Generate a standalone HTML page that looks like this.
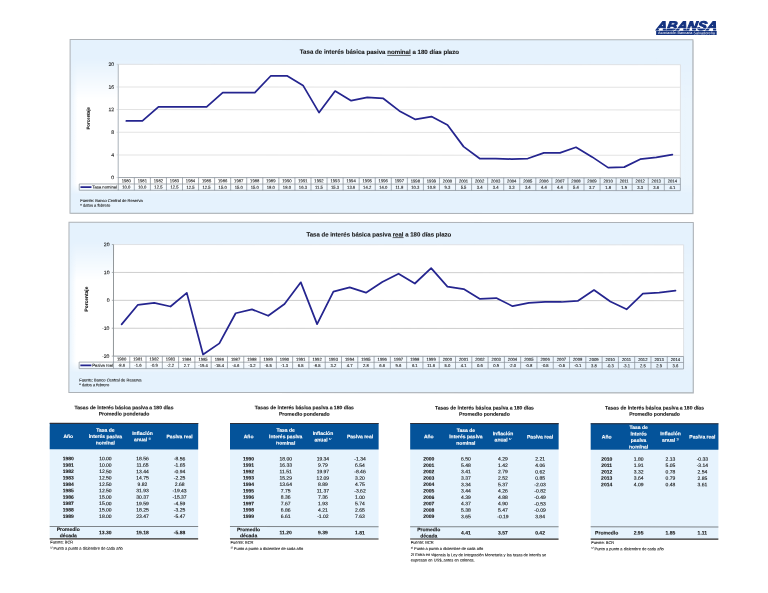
<!DOCTYPE html>
<html lang="es"><head><meta charset="utf-8"><title>ABANSA - Tasa de interés básica pasiva a 180 días plazo</title>
<style>
html,body{margin:0;padding:0;background:#fff}
body{width:768px;height:593px;overflow:hidden;font-family:"Liberation Sans",sans-serif}
svg{display:block}
svg text{font-family:"Liberation Sans",sans-serif;fill:#151515;stroke:#151515;stroke-width:0.09px}
.ax{font-size:5.15px}
.dt{font-size:4.2px}
.ct{font-weight:bold;stroke-width:0.1px}
.yt{font-weight:bold;stroke-width:0.1px}
.fu{font-size:4.05px}
.tt{font-size:5.05px;font-weight:bold;stroke-width:0.1px}
.th{font-size:5px;font-weight:bold;fill:#fff;stroke:#fff;stroke-width:0.1px}
.td{font-size:5px;stroke-width:0.12px}
.tdb{font-size:5px;font-weight:bold;stroke-width:0.1px}
.nt{font-size:3.98px}
.lg{font-size:12.5px;font-weight:bold;font-style:italic;fill:#13327f;stroke:#13327f;stroke-width:0.95px;stroke-linejoin:miter}
.lg2{font-size:3.6px;fill:#fff;stroke:none}
</style></head><body>
<svg width="768" height="593" viewBox="0 0 768 593">
<defs>
<linearGradient id="h1" gradientUnits="userSpaceOnUse" x1="69.95" y1="0" x2="692.7" y2="0">
<stop offset="0" stop-color="#fff" stop-opacity="0.2"/><stop offset="0.012" stop-color="#fff" stop-opacity="1"/>
<stop offset="0.22" stop-color="#fff" stop-opacity="1"/><stop offset="0.88" stop-color="#fff" stop-opacity="0.28"/><stop offset="1" stop-color="#fff" stop-opacity="0.22"/>
</linearGradient>
<linearGradient id="v1" gradientUnits="userSpaceOnUse" x1="0" y1="39.6" x2="0" y2="213.4">
<stop offset="0" stop-color="#000"/><stop offset="0.106" stop-color="#000"/><stop offset="0.348" stop-color="#fff"/>
<stop offset="0.831" stop-color="#fff"/><stop offset="0.894" stop-color="#000"/><stop offset="1" stop-color="#000"/>
</linearGradient>
<mask id="m1" maskUnits="userSpaceOnUse" x="69.95" y="39.6" width="622.75" height="173.8"><rect x="69.95" y="39.6" width="622.75" height="173.8" fill="url(#v1)"/></mask>

<linearGradient id="h2" gradientUnits="userSpaceOnUse" x1="68.95" y1="0" x2="693.3" y2="0">
<stop offset="0" stop-color="#fff" stop-opacity="0.2"/><stop offset="0.012" stop-color="#fff" stop-opacity="1"/>
<stop offset="0.22" stop-color="#fff" stop-opacity="1"/><stop offset="0.88" stop-color="#fff" stop-opacity="0.28"/><stop offset="1" stop-color="#fff" stop-opacity="0.22"/>
</linearGradient>
<linearGradient id="v2" gradientUnits="userSpaceOnUse" x1="0" y1="222.4" x2="0" y2="392.55">
<stop offset="0" stop-color="#000"/><stop offset="0.109" stop-color="#000"/><stop offset="0.350" stop-color="#fff"/>
<stop offset="0.820" stop-color="#fff"/><stop offset="0.885" stop-color="#000"/><stop offset="1" stop-color="#000"/>
</linearGradient>
<mask id="m2" maskUnits="userSpaceOnUse" x="68.95" y="222.4" width="624.3499999999999" height="170.15"><rect x="68.95" y="222.4" width="624.3499999999999" height="170.15" fill="url(#v2)"/></mask>
</defs>
<g transform="rotate(0.035 384 296.5)">

<g>
<text transform="translate(656.2 29.75) skewX(-9)" class="lg" textLength="60.2" lengthAdjust="spacingAndGlyphs">ABANSA</text>
<rect x="658" y="27.85" width="59" height="0.5" fill="#fff"/>
<rect x="656" y="30.7" width="60.5" height="4.05" fill="#13327f"/>
<text x="657.8" y="33.95" class="lg2" textLength="57" lengthAdjust="spacingAndGlyphs">Asociación Bancaria Salvadoreña</text>
</g>

<rect x="70.55" y="40.2" width="622.8" height="173.8" fill="#c5c9cd"/>
<rect x="69.95" y="39.6" width="622.8" height="173.8" fill="#e5f2fd"/>
<rect x="69.95" y="39.6" width="622.8" height="173.8" fill="url(#h1)" mask="url(#m1)"/>
<rect x="69.95" y="39.6" width="622.8" height="173.8" fill="none" stroke="#adb2b7" stroke-width="1"/>
<rect x="118.2" y="64.5" width="562.10" height="113.20" fill="#fff" stroke="#dcdfe2" stroke-width="0.9"/>
<line x1="116.5" y1="177.70" x2="118.2" y2="177.70" stroke="#c2c8ce" stroke-width="0.7"/>
<text x="114.0" y="179.45" text-anchor="end" class="ax">0</text>
<line x1="118.2" y1="155.06" x2="680.3" y2="155.06" stroke="#e3e3e3" stroke-width="1.0"/>
<line x1="116.5" y1="155.06" x2="118.2" y2="155.06" stroke="#c2c8ce" stroke-width="0.7"/>
<text x="114.0" y="156.81" text-anchor="end" class="ax">4</text>
<line x1="118.2" y1="132.42" x2="680.3" y2="132.42" stroke="#e3e3e3" stroke-width="1.0"/>
<line x1="116.5" y1="132.42" x2="118.2" y2="132.42" stroke="#c2c8ce" stroke-width="0.7"/>
<text x="114.0" y="134.17" text-anchor="end" class="ax">8</text>
<line x1="118.2" y1="109.78" x2="680.3" y2="109.78" stroke="#e3e3e3" stroke-width="1.0"/>
<line x1="116.5" y1="109.78" x2="118.2" y2="109.78" stroke="#c2c8ce" stroke-width="0.7"/>
<text x="114.0" y="111.53" text-anchor="end" class="ax">12</text>
<line x1="118.2" y1="87.14" x2="680.3" y2="87.14" stroke="#e3e3e3" stroke-width="1.0"/>
<line x1="116.5" y1="87.14" x2="118.2" y2="87.14" stroke="#c2c8ce" stroke-width="0.7"/>
<text x="114.0" y="88.89" text-anchor="end" class="ax">16</text>
<line x1="116.5" y1="64.50" x2="118.2" y2="64.50" stroke="#c2c8ce" stroke-width="0.7"/>
<text x="114.0" y="66.25" text-anchor="end" class="ax">20</text>
<line x1="118.2" y1="64.5" x2="118.2" y2="177.7" stroke="#c2c8ce" stroke-width="1.3"/>
<path d="M118.2 177.7H680.3M79.2 184.15H680.3M79.2 190.45H680.3M79.2 184.15V190.45M118.20 177.7V190.45M134.26 177.7V190.45M150.32 177.7V190.45M166.38 177.7V190.45M182.44 177.7V190.45M198.50 177.7V190.45M214.56 177.7V190.45M230.62 177.7V190.45M246.68 177.7V190.45M262.74 177.7V190.45M278.80 177.7V190.45M294.86 177.7V190.45M310.92 177.7V190.45M326.98 177.7V190.45M343.04 177.7V190.45M359.10 177.7V190.45M375.16 177.7V190.45M391.22 177.7V190.45M407.28 177.7V190.45M423.34 177.7V190.45M439.40 177.7V190.45M455.46 177.7V190.45M471.52 177.7V190.45M487.58 177.7V190.45M503.64 177.7V190.45M519.70 177.7V190.45M535.76 177.7V190.45M551.82 177.7V190.45M567.88 177.7V190.45M583.94 177.7V190.45M600.00 177.7V190.45M616.06 177.7V190.45M632.12 177.7V190.45M648.18 177.7V190.45M664.24 177.7V190.45M680.30 177.7V190.45" fill="none" stroke="#8b939b" stroke-width="0.75"/>
<text x="126.23" y="182.37" text-anchor="middle" class="dt">1980</text>
<text x="126.23" y="188.75" text-anchor="middle" class="dt">10.0</text>
<text x="142.29" y="182.37" text-anchor="middle" class="dt">1981</text>
<text x="142.29" y="188.75" text-anchor="middle" class="dt">10.0</text>
<text x="158.35" y="182.37" text-anchor="middle" class="dt">1982</text>
<text x="158.35" y="188.75" text-anchor="middle" class="dt">12.5</text>
<text x="174.41" y="182.37" text-anchor="middle" class="dt">1983</text>
<text x="174.41" y="188.75" text-anchor="middle" class="dt">12.5</text>
<text x="190.47" y="182.37" text-anchor="middle" class="dt">1984</text>
<text x="190.47" y="188.75" text-anchor="middle" class="dt">12.5</text>
<text x="206.53" y="182.37" text-anchor="middle" class="dt">1985</text>
<text x="206.53" y="188.75" text-anchor="middle" class="dt">12.5</text>
<text x="222.59" y="182.37" text-anchor="middle" class="dt">1986</text>
<text x="222.59" y="188.75" text-anchor="middle" class="dt">15.0</text>
<text x="238.65" y="182.37" text-anchor="middle" class="dt">1987</text>
<text x="238.65" y="188.75" text-anchor="middle" class="dt">15.0</text>
<text x="254.71" y="182.37" text-anchor="middle" class="dt">1988</text>
<text x="254.71" y="188.75" text-anchor="middle" class="dt">15.0</text>
<text x="270.77" y="182.37" text-anchor="middle" class="dt">1989</text>
<text x="270.77" y="188.75" text-anchor="middle" class="dt">18.0</text>
<text x="286.83" y="182.37" text-anchor="middle" class="dt">1990</text>
<text x="286.83" y="188.75" text-anchor="middle" class="dt">18.0</text>
<text x="302.89" y="182.37" text-anchor="middle" class="dt">1991</text>
<text x="302.89" y="188.75" text-anchor="middle" class="dt">16.3</text>
<text x="318.95" y="182.37" text-anchor="middle" class="dt">1992</text>
<text x="318.95" y="188.75" text-anchor="middle" class="dt">11.5</text>
<text x="335.01" y="182.37" text-anchor="middle" class="dt">1993</text>
<text x="335.01" y="188.75" text-anchor="middle" class="dt">15.3</text>
<text x="351.07" y="182.37" text-anchor="middle" class="dt">1994</text>
<text x="351.07" y="188.75" text-anchor="middle" class="dt">13.6</text>
<text x="367.13" y="182.37" text-anchor="middle" class="dt">1995</text>
<text x="367.13" y="188.75" text-anchor="middle" class="dt">14.2</text>
<text x="383.19" y="182.37" text-anchor="middle" class="dt">1996</text>
<text x="383.19" y="188.75" text-anchor="middle" class="dt">14.0</text>
<text x="399.25" y="182.37" text-anchor="middle" class="dt">1997</text>
<text x="399.25" y="188.75" text-anchor="middle" class="dt">11.8</text>
<text x="415.31" y="182.37" text-anchor="middle" class="dt">1998</text>
<text x="415.31" y="188.75" text-anchor="middle" class="dt">10.3</text>
<text x="431.37" y="182.37" text-anchor="middle" class="dt">1999</text>
<text x="431.37" y="188.75" text-anchor="middle" class="dt">10.8</text>
<text x="447.43" y="182.37" text-anchor="middle" class="dt">2000</text>
<text x="447.43" y="188.75" text-anchor="middle" class="dt">9.3</text>
<text x="463.49" y="182.37" text-anchor="middle" class="dt">2001</text>
<text x="463.49" y="188.75" text-anchor="middle" class="dt">5.5</text>
<text x="479.55" y="182.37" text-anchor="middle" class="dt">2002</text>
<text x="479.55" y="188.75" text-anchor="middle" class="dt">3.4</text>
<text x="495.61" y="182.37" text-anchor="middle" class="dt">2003</text>
<text x="495.61" y="188.75" text-anchor="middle" class="dt">3.4</text>
<text x="511.67" y="182.37" text-anchor="middle" class="dt">2004</text>
<text x="511.67" y="188.75" text-anchor="middle" class="dt">3.3</text>
<text x="527.73" y="182.37" text-anchor="middle" class="dt">2005</text>
<text x="527.73" y="188.75" text-anchor="middle" class="dt">3.4</text>
<text x="543.79" y="182.37" text-anchor="middle" class="dt">2006</text>
<text x="543.79" y="188.75" text-anchor="middle" class="dt">4.4</text>
<text x="559.85" y="182.37" text-anchor="middle" class="dt">2007</text>
<text x="559.85" y="188.75" text-anchor="middle" class="dt">4.4</text>
<text x="575.91" y="182.37" text-anchor="middle" class="dt">2008</text>
<text x="575.91" y="188.75" text-anchor="middle" class="dt">5.4</text>
<text x="591.97" y="182.37" text-anchor="middle" class="dt">2009</text>
<text x="591.97" y="188.75" text-anchor="middle" class="dt">3.7</text>
<text x="608.03" y="182.37" text-anchor="middle" class="dt">2010</text>
<text x="608.03" y="188.75" text-anchor="middle" class="dt">1.8</text>
<text x="624.09" y="182.37" text-anchor="middle" class="dt">2011</text>
<text x="624.09" y="188.75" text-anchor="middle" class="dt">1.9</text>
<text x="640.15" y="182.37" text-anchor="middle" class="dt">2012</text>
<text x="640.15" y="188.75" text-anchor="middle" class="dt">3.3</text>
<text x="656.21" y="182.37" text-anchor="middle" class="dt">2013</text>
<text x="656.21" y="188.75" text-anchor="middle" class="dt">3.6</text>
<text x="672.27" y="182.37" text-anchor="middle" class="dt">2014</text>
<text x="672.27" y="188.75" text-anchor="middle" class="dt">4.1</text>
<line x1="80.4" y1="187.30" x2="91.4" y2="187.30" stroke="#25258f" stroke-width="1.6"/>
<text x="92.3" y="188.75" class="dt">Tasa nominal</text>
<polyline points="126.23,121.10 142.29,121.10 158.35,106.95 174.41,106.95 190.47,106.95 206.53,106.95 222.59,92.80 238.65,92.80 254.71,92.80 270.77,75.82 286.83,75.82 302.89,85.44 318.95,112.61 335.01,91.10 351.07,100.72 367.13,97.33 383.19,98.46 399.25,110.91 415.31,119.40 431.37,116.57 447.43,125.06 463.49,146.57 479.55,158.46 495.61,158.46 511.67,159.02 527.73,158.46 543.79,152.80 559.85,152.80 575.91,147.14 591.97,156.76 608.03,167.51 624.09,166.95 640.15,159.02 656.21,157.32 672.27,154.49" fill="none" stroke="#25258f" stroke-width="1.75" stroke-linejoin="round" stroke-linecap="round"/>
<text x="379.3" y="53.9" text-anchor="middle" class="ct" font-size="6.13">Tasa de interés básica pasiva <tspan text-decoration="underline">nominal</tspan> a 180 días plazo</text>
<text transform="translate(89.6,118.5) rotate(-90)" text-anchor="middle" class="yt" font-size="4.42">Porcentaje</text>
<text x="80.3" y="202.2" class="fu">Fuente: Banco Central de Reserva</text>
<text x="80.3" y="206.89999999999998" class="fu">* datos a febrero</text>
<rect x="69.55" y="223.0" width="624.3" height="170.2" fill="#c5c9cd"/>
<rect x="68.95" y="222.4" width="624.3" height="170.2" fill="#e5f2fd"/>
<rect x="68.95" y="222.4" width="624.3" height="170.2" fill="url(#h2)" mask="url(#m2)"/>
<rect x="68.95" y="222.4" width="624.3" height="170.2" fill="none" stroke="#adb2b7" stroke-width="1"/>
<rect x="113.5" y="244.7" width="570.10" height="111.60" fill="#fff" stroke="#dcdfe2" stroke-width="0.9"/>
<line x1="111.8" y1="356.30" x2="113.5" y2="356.30" stroke="#8e9397" stroke-width="0.7"/>
<text x="109.5" y="358.05" text-anchor="end" class="ax">-20</text>
<line x1="113.5" y1="328.40" x2="683.6" y2="328.40" stroke="#bdbdbd" stroke-width="0.75"/>
<line x1="111.8" y1="328.40" x2="113.5" y2="328.40" stroke="#8e9397" stroke-width="0.7"/>
<text x="109.5" y="330.15" text-anchor="end" class="ax">-10</text>
<line x1="113.5" y1="300.50" x2="683.6" y2="300.50" stroke="#bdbdbd" stroke-width="0.75"/>
<line x1="111.8" y1="300.50" x2="113.5" y2="300.50" stroke="#8e9397" stroke-width="0.7"/>
<text x="109.5" y="302.25" text-anchor="end" class="ax">0</text>
<line x1="113.5" y1="272.60" x2="683.6" y2="272.60" stroke="#bdbdbd" stroke-width="0.75"/>
<line x1="111.8" y1="272.60" x2="113.5" y2="272.60" stroke="#8e9397" stroke-width="0.7"/>
<text x="109.5" y="274.35" text-anchor="end" class="ax">10</text>
<line x1="111.8" y1="244.70" x2="113.5" y2="244.70" stroke="#8e9397" stroke-width="0.7"/>
<text x="109.5" y="246.45" text-anchor="end" class="ax">20</text>
<line x1="113.5" y1="244.7" x2="113.5" y2="356.3" stroke="#8e9397" stroke-width="0.95"/>
<path d="M113.5 356.3H683.6M79.2 362.30H683.6M79.2 368.80H683.6M79.2 362.30V368.80M113.50 356.3V368.80M129.79 356.3V368.80M146.08 356.3V368.80M162.37 356.3V368.80M178.65 356.3V368.80M194.94 356.3V368.80M211.23 356.3V368.80M227.52 356.3V368.80M243.81 356.3V368.80M260.10 356.3V368.80M276.39 356.3V368.80M292.67 356.3V368.80M308.96 356.3V368.80M325.25 356.3V368.80M341.54 356.3V368.80M357.83 356.3V368.80M374.12 356.3V368.80M390.41 356.3V368.80M406.69 356.3V368.80M422.98 356.3V368.80M439.27 356.3V368.80M455.56 356.3V368.80M471.85 356.3V368.80M488.14 356.3V368.80M504.43 356.3V368.80M520.71 356.3V368.80M537.00 356.3V368.80M553.29 356.3V368.80M569.58 356.3V368.80M585.87 356.3V368.80M602.16 356.3V368.80M618.45 356.3V368.80M634.73 356.3V368.80M651.02 356.3V368.80M667.31 356.3V368.80M683.60 356.3V368.80" fill="none" stroke="#8b939b" stroke-width="0.75"/>
<text x="121.64" y="360.75" text-anchor="middle" class="dt">1980</text>
<text x="121.64" y="367.00" text-anchor="middle" class="dt">-8.6</text>
<text x="137.93" y="360.75" text-anchor="middle" class="dt">1981</text>
<text x="137.93" y="367.00" text-anchor="middle" class="dt">-1.6</text>
<text x="154.22" y="360.75" text-anchor="middle" class="dt">1982</text>
<text x="154.22" y="367.00" text-anchor="middle" class="dt">-0.9</text>
<text x="170.51" y="360.75" text-anchor="middle" class="dt">1983</text>
<text x="170.51" y="367.00" text-anchor="middle" class="dt">-2.2</text>
<text x="186.80" y="360.75" text-anchor="middle" class="dt">1984</text>
<text x="186.80" y="367.00" text-anchor="middle" class="dt">2.7</text>
<text x="203.09" y="360.75" text-anchor="middle" class="dt">1985</text>
<text x="203.09" y="367.00" text-anchor="middle" class="dt">-19.4</text>
<text x="219.38" y="360.75" text-anchor="middle" class="dt">1986</text>
<text x="219.38" y="367.00" text-anchor="middle" class="dt">-15.4</text>
<text x="235.66" y="360.75" text-anchor="middle" class="dt">1987</text>
<text x="235.66" y="367.00" text-anchor="middle" class="dt">-4.6</text>
<text x="251.95" y="360.75" text-anchor="middle" class="dt">1988</text>
<text x="251.95" y="367.00" text-anchor="middle" class="dt">-3.2</text>
<text x="268.24" y="360.75" text-anchor="middle" class="dt">1989</text>
<text x="268.24" y="367.00" text-anchor="middle" class="dt">-5.5</text>
<text x="284.53" y="360.75" text-anchor="middle" class="dt">1990</text>
<text x="284.53" y="367.00" text-anchor="middle" class="dt">-1.3</text>
<text x="300.82" y="360.75" text-anchor="middle" class="dt">1991</text>
<text x="300.82" y="367.00" text-anchor="middle" class="dt">6.5</text>
<text x="317.11" y="360.75" text-anchor="middle" class="dt">1992</text>
<text x="317.11" y="367.00" text-anchor="middle" class="dt">-8.5</text>
<text x="333.40" y="360.75" text-anchor="middle" class="dt">1993</text>
<text x="333.40" y="367.00" text-anchor="middle" class="dt">3.2</text>
<text x="349.68" y="360.75" text-anchor="middle" class="dt">1994</text>
<text x="349.68" y="367.00" text-anchor="middle" class="dt">4.7</text>
<text x="365.97" y="360.75" text-anchor="middle" class="dt">1995</text>
<text x="365.97" y="367.00" text-anchor="middle" class="dt">2.8</text>
<text x="382.26" y="360.75" text-anchor="middle" class="dt">1996</text>
<text x="382.26" y="367.00" text-anchor="middle" class="dt">6.6</text>
<text x="398.55" y="360.75" text-anchor="middle" class="dt">1997</text>
<text x="398.55" y="367.00" text-anchor="middle" class="dt">9.6</text>
<text x="414.84" y="360.75" text-anchor="middle" class="dt">1998</text>
<text x="414.84" y="367.00" text-anchor="middle" class="dt">6.1</text>
<text x="431.13" y="360.75" text-anchor="middle" class="dt">1999</text>
<text x="431.13" y="367.00" text-anchor="middle" class="dt">11.6</text>
<text x="447.42" y="360.75" text-anchor="middle" class="dt">2000</text>
<text x="447.42" y="367.00" text-anchor="middle" class="dt">5.0</text>
<text x="463.70" y="360.75" text-anchor="middle" class="dt">2001</text>
<text x="463.70" y="367.00" text-anchor="middle" class="dt">4.1</text>
<text x="479.99" y="360.75" text-anchor="middle" class="dt">2002</text>
<text x="479.99" y="367.00" text-anchor="middle" class="dt">0.6</text>
<text x="496.28" y="360.75" text-anchor="middle" class="dt">2003</text>
<text x="496.28" y="367.00" text-anchor="middle" class="dt">0.9</text>
<text x="512.57" y="360.75" text-anchor="middle" class="dt">2004</text>
<text x="512.57" y="367.00" text-anchor="middle" class="dt">-2.0</text>
<text x="528.86" y="360.75" text-anchor="middle" class="dt">2005</text>
<text x="528.86" y="367.00" text-anchor="middle" class="dt">-0.8</text>
<text x="545.15" y="360.75" text-anchor="middle" class="dt">2006</text>
<text x="545.15" y="367.00" text-anchor="middle" class="dt">-0.5</text>
<text x="561.44" y="360.75" text-anchor="middle" class="dt">2007</text>
<text x="561.44" y="367.00" text-anchor="middle" class="dt">-0.5</text>
<text x="577.72" y="360.75" text-anchor="middle" class="dt">2008</text>
<text x="577.72" y="367.00" text-anchor="middle" class="dt">-0.1</text>
<text x="594.01" y="360.75" text-anchor="middle" class="dt">2009</text>
<text x="594.01" y="367.00" text-anchor="middle" class="dt">3.8</text>
<text x="610.30" y="360.75" text-anchor="middle" class="dt">2010</text>
<text x="610.30" y="367.00" text-anchor="middle" class="dt">-0.3</text>
<text x="626.59" y="360.75" text-anchor="middle" class="dt">2011</text>
<text x="626.59" y="367.00" text-anchor="middle" class="dt">-3.1</text>
<text x="642.88" y="360.75" text-anchor="middle" class="dt">2012</text>
<text x="642.88" y="367.00" text-anchor="middle" class="dt">2.5</text>
<text x="659.17" y="360.75" text-anchor="middle" class="dt">2013</text>
<text x="659.17" y="367.00" text-anchor="middle" class="dt">2.9</text>
<text x="675.46" y="360.75" text-anchor="middle" class="dt">2014</text>
<text x="675.46" y="367.00" text-anchor="middle" class="dt">3.6</text>
<line x1="80.4" y1="365.55" x2="91.4" y2="365.55" stroke="#25258f" stroke-width="1.6"/>
<text x="92.3" y="367.00" class="dt">Pasiva real</text>
<polyline points="121.64,324.49 137.93,304.96 154.22,303.01 170.51,306.64 186.80,292.97 203.09,354.63 219.38,343.47 235.66,313.33 251.95,309.43 268.24,315.85 284.53,304.13 300.82,282.37 317.11,324.22 333.40,291.57 349.68,287.39 365.97,292.69 382.26,282.09 398.55,273.72 414.84,283.48 431.13,268.14 447.42,286.55 463.70,289.06 479.99,298.83 496.28,297.99 512.57,306.08 528.86,302.73 545.15,301.89 561.44,301.89 577.72,300.78 594.01,289.90 610.30,301.34 626.59,309.15 642.88,293.52 659.17,292.41 675.46,290.46" fill="none" stroke="#25258f" stroke-width="1.75" stroke-linejoin="round" stroke-linecap="round"/>
<text x="378.8" y="236.5" text-anchor="middle" class="ct" font-size="6.05">Tasa de interés básica pasiva <tspan text-decoration="underline">real</tspan> a 180 días plazo</text>
<text transform="translate(87.9,299.25) rotate(-90)" text-anchor="middle" class="yt" font-size="4.88">Porcentaje</text>
<text x="79.3" y="381.7" class="fu">Fuente: Banco Central de Reserva</text>
<text x="79.3" y="386.4" class="fu">* datos a febrero</text>
<text x="124.1" y="409.4" text-anchor="middle" class="tt">Tasas de interés básica pasiva a 180 días</text>
<text x="124.1" y="415.7" text-anchor="middle" class="tt">Promedio ponderado</text>
<rect x="49.8" y="449.3" width="148.5" height="89.5" fill="#e6f3fd"/>
<rect x="49.8" y="423.2" width="148.5" height="26.3" fill="#04539a"/>
<rect x="49.8" y="423.0" width="148.5" height="1.1" fill="#2c2f3a"/>
<text x="68.4" y="438.30" text-anchor="middle" class="th">Año</text>
<text x="105.5" y="431.90" text-anchor="middle" class="th">Tasa de</text>
<text x="105.5" y="438.30" text-anchor="middle" class="th">interés pasiva</text>
<text x="105.5" y="444.70" text-anchor="middle" class="th">nominal</text>
<text x="142.6" y="435.10" text-anchor="middle" class="th">Inflación</text>
<text x="142.6" y="441.50" text-anchor="middle" class="th">anual <tspan font-size="2.8" dy="-1.5" font-weight="normal">1/</tspan></text>
<text x="179.7" y="438.30" text-anchor="middle" class="th">Pasiva real</text>
<text x="68.4" y="460.50" text-anchor="middle" class="tdb">1980</text>
<text x="105.5" y="460.50" text-anchor="middle" class="td">10.00</text>
<text x="142.6" y="460.50" text-anchor="middle" class="td">18.56</text>
<text x="179.7" y="460.50" text-anchor="middle" class="td">-8.56</text>
<text x="68.4" y="466.90" text-anchor="middle" class="tdb">1981</text>
<text x="105.5" y="466.90" text-anchor="middle" class="td">10.00</text>
<text x="142.6" y="466.90" text-anchor="middle" class="td">11.65</text>
<text x="179.7" y="466.90" text-anchor="middle" class="td">-1.65</text>
<text x="68.4" y="473.30" text-anchor="middle" class="tdb">1982</text>
<text x="105.5" y="473.30" text-anchor="middle" class="td">12.50</text>
<text x="142.6" y="473.30" text-anchor="middle" class="td">13.44</text>
<text x="179.7" y="473.30" text-anchor="middle" class="td">-0.94</text>
<text x="68.4" y="479.70" text-anchor="middle" class="tdb">1983</text>
<text x="105.5" y="479.70" text-anchor="middle" class="td">12.50</text>
<text x="142.6" y="479.70" text-anchor="middle" class="td">14.75</text>
<text x="179.7" y="479.70" text-anchor="middle" class="td">-2.25</text>
<text x="68.4" y="486.10" text-anchor="middle" class="tdb">1984</text>
<text x="105.5" y="486.10" text-anchor="middle" class="td">12.50</text>
<text x="142.6" y="486.10" text-anchor="middle" class="td">9.82</text>
<text x="179.7" y="486.10" text-anchor="middle" class="td">2.68</text>
<text x="68.4" y="492.50" text-anchor="middle" class="tdb">1985</text>
<text x="105.5" y="492.50" text-anchor="middle" class="td">12.50</text>
<text x="142.6" y="492.50" text-anchor="middle" class="td">31.93</text>
<text x="179.7" y="492.50" text-anchor="middle" class="td">-19.43</text>
<text x="68.4" y="498.90" text-anchor="middle" class="tdb">1986</text>
<text x="105.5" y="498.90" text-anchor="middle" class="td">15.00</text>
<text x="142.6" y="498.90" text-anchor="middle" class="td">30.37</text>
<text x="179.7" y="498.90" text-anchor="middle" class="td">-15.37</text>
<text x="68.4" y="505.30" text-anchor="middle" class="tdb">1987</text>
<text x="105.5" y="505.30" text-anchor="middle" class="td">15.00</text>
<text x="142.6" y="505.30" text-anchor="middle" class="td">19.59</text>
<text x="179.7" y="505.30" text-anchor="middle" class="td">-4.59</text>
<text x="68.4" y="511.70" text-anchor="middle" class="tdb">1988</text>
<text x="105.5" y="511.70" text-anchor="middle" class="td">15.00</text>
<text x="142.6" y="511.70" text-anchor="middle" class="td">18.25</text>
<text x="179.7" y="511.70" text-anchor="middle" class="td">-3.25</text>
<text x="68.4" y="518.10" text-anchor="middle" class="tdb">1989</text>
<text x="105.5" y="518.10" text-anchor="middle" class="td">18.00</text>
<text x="142.6" y="518.10" text-anchor="middle" class="td">23.47</text>
<text x="179.7" y="518.10" text-anchor="middle" class="td">-5.47</text>
<rect x="49.8" y="526.2" width="148.5" height="1" fill="#7e8489"/>
<rect x="49.8" y="538.4" width="148.5" height="1.2" fill="#2f2c2a"/>
<text x="68.4" y="531.25" text-anchor="middle" class="tdb">Promedio</text>
<text x="68.4" y="537.45" text-anchor="middle" class="tdb">década</text>
<text x="105.5" y="534.4" text-anchor="middle" class="tdb">13.30</text>
<text x="142.6" y="534.4" text-anchor="middle" class="tdb">19.18</text>
<text x="179.7" y="534.4" text-anchor="middle" class="tdb">-5.88</text>
<text x="50.4" y="543.8" class="nt">Fuente: BCR</text>
<text x="50.4" y="550.0" class="nt"><tspan font-size="2.6" dy="-1.3">1/</tspan><tspan dy="1.3"> Punto a punto a diciembre de cada año</tspan></text><text x="304.4" y="409.4" text-anchor="middle" class="tt">Tasas de interés básica pasiva a 180 días</text>
<text x="304.4" y="415.7" text-anchor="middle" class="tt">Promedio ponderado</text>
<rect x="230.1" y="449.3" width="148.6" height="89.5" fill="#e6f3fd"/>
<rect x="230.1" y="423.2" width="148.6" height="26.3" fill="#04539a"/>
<rect x="230.1" y="423.0" width="148.6" height="1.1" fill="#2c2f3a"/>
<text x="248.7" y="438.30" text-anchor="middle" class="th">Año</text>
<text x="285.8" y="431.90" text-anchor="middle" class="th">Tasa de</text>
<text x="285.8" y="438.30" text-anchor="middle" class="th">interés pasiva</text>
<text x="285.8" y="444.70" text-anchor="middle" class="th">nominal</text>
<text x="323.0" y="435.10" text-anchor="middle" class="th">Inflación</text>
<text x="323.0" y="441.50" text-anchor="middle" class="th">anual <tspan font-size="2.8" dy="-1.5" font-weight="normal">1/</tspan></text>
<text x="360.1" y="438.30" text-anchor="middle" class="th">Pasiva real</text>
<text x="248.7" y="460.50" text-anchor="middle" class="tdb">1990</text>
<text x="285.8" y="460.50" text-anchor="middle" class="td">18.00</text>
<text x="323.0" y="460.50" text-anchor="middle" class="td">19.34</text>
<text x="360.1" y="460.50" text-anchor="middle" class="td">-1.34</text>
<text x="248.7" y="466.90" text-anchor="middle" class="tdb">1991</text>
<text x="285.8" y="466.90" text-anchor="middle" class="td">16.33</text>
<text x="323.0" y="466.90" text-anchor="middle" class="td">9.79</text>
<text x="360.1" y="466.90" text-anchor="middle" class="td">6.54</text>
<text x="248.7" y="473.30" text-anchor="middle" class="tdb">1992</text>
<text x="285.8" y="473.30" text-anchor="middle" class="td">11.51</text>
<text x="323.0" y="473.30" text-anchor="middle" class="td">19.97</text>
<text x="360.1" y="473.30" text-anchor="middle" class="td">-8.46</text>
<text x="248.7" y="479.70" text-anchor="middle" class="tdb">1993</text>
<text x="285.8" y="479.70" text-anchor="middle" class="td">15.29</text>
<text x="323.0" y="479.70" text-anchor="middle" class="td">12.09</text>
<text x="360.1" y="479.70" text-anchor="middle" class="td">3.20</text>
<text x="248.7" y="486.10" text-anchor="middle" class="tdb">1994</text>
<text x="285.8" y="486.10" text-anchor="middle" class="td">13.64</text>
<text x="323.0" y="486.10" text-anchor="middle" class="td">8.89</text>
<text x="360.1" y="486.10" text-anchor="middle" class="td">4.75</text>
<text x="248.7" y="492.50" text-anchor="middle" class="tdb">1995</text>
<text x="285.8" y="492.50" text-anchor="middle" class="td">7.75</text>
<text x="323.0" y="492.50" text-anchor="middle" class="td">11.37</text>
<text x="360.1" y="492.50" text-anchor="middle" class="td">-3.62</text>
<text x="248.7" y="498.90" text-anchor="middle" class="tdb">1996</text>
<text x="285.8" y="498.90" text-anchor="middle" class="td">8.36</text>
<text x="323.0" y="498.90" text-anchor="middle" class="td">7.36</text>
<text x="360.1" y="498.90" text-anchor="middle" class="td">1.00</text>
<text x="248.7" y="505.30" text-anchor="middle" class="tdb">1997</text>
<text x="285.8" y="505.30" text-anchor="middle" class="td">7.67</text>
<text x="323.0" y="505.30" text-anchor="middle" class="td">1.93</text>
<text x="360.1" y="505.30" text-anchor="middle" class="td">5.74</text>
<text x="248.7" y="511.70" text-anchor="middle" class="tdb">1998</text>
<text x="285.8" y="511.70" text-anchor="middle" class="td">6.86</text>
<text x="323.0" y="511.70" text-anchor="middle" class="td">4.21</text>
<text x="360.1" y="511.70" text-anchor="middle" class="td">2.65</text>
<text x="248.7" y="518.10" text-anchor="middle" class="tdb">1999</text>
<text x="285.8" y="518.10" text-anchor="middle" class="td">6.61</text>
<text x="323.0" y="518.10" text-anchor="middle" class="td">-1.02</text>
<text x="360.1" y="518.10" text-anchor="middle" class="td">7.63</text>
<rect x="230.1" y="526.2" width="148.6" height="1" fill="#7e8489"/>
<rect x="230.1" y="538.4" width="148.6" height="1.2" fill="#2f2c2a"/>
<text x="248.7" y="531.25" text-anchor="middle" class="tdb">Promedio</text>
<text x="248.7" y="537.45" text-anchor="middle" class="tdb">década</text>
<text x="285.8" y="534.4" text-anchor="middle" class="tdb">11.20</text>
<text x="323.0" y="534.4" text-anchor="middle" class="tdb">9.39</text>
<text x="360.1" y="534.4" text-anchor="middle" class="tdb">1.81</text>
<text x="230.7" y="543.8" class="nt">Fuente: BCR</text>
<text x="230.7" y="550.0" class="nt"><tspan font-size="2.6" dy="-1.3">1/</tspan><tspan dy="1.3"> Punto a punto a diciembre de cada año</tspan></text><text x="484.5" y="409.4" text-anchor="middle" class="tt">Tasas de interés básica pasiva a 180 días</text>
<text x="484.5" y="415.7" text-anchor="middle" class="tt">Promedio ponderado</text>
<rect x="410.3" y="449.3" width="148.4" height="89.5" fill="#e6f3fd"/>
<rect x="410.3" y="423.2" width="148.4" height="26.3" fill="#04539a"/>
<rect x="410.3" y="423.0" width="148.4" height="1.1" fill="#2c2f3a"/>
<text x="428.9" y="438.30" text-anchor="middle" class="th">Año</text>
<text x="466.0" y="431.90" text-anchor="middle" class="th">Tasa de</text>
<text x="466.0" y="438.30" text-anchor="middle" class="th">interés pasiva</text>
<text x="466.0" y="444.70" text-anchor="middle" class="th">nominal</text>
<text x="503.1" y="435.10" text-anchor="middle" class="th">Inflación</text>
<text x="503.1" y="441.50" text-anchor="middle" class="th">anual <tspan font-size="2.8" dy="-1.5" font-weight="normal">1/</tspan></text>
<text x="540.2" y="438.30" text-anchor="middle" class="th">Pasiva real</text>
<text x="428.9" y="460.50" text-anchor="middle" class="tdb">2000</text>
<text x="466.0" y="460.50" text-anchor="middle" class="td">6.50</text>
<text x="503.1" y="460.50" text-anchor="middle" class="td">4.29</text>
<text x="540.2" y="460.50" text-anchor="middle" class="td">2.21</text>
<text x="428.9" y="466.90" text-anchor="middle" class="tdb">2001</text>
<text x="466.0" y="466.90" text-anchor="middle" class="td">5.48</text>
<text x="503.1" y="466.90" text-anchor="middle" class="td">1.42</text>
<text x="540.2" y="466.90" text-anchor="middle" class="td">4.06</text>
<text x="428.9" y="473.30" text-anchor="middle" class="tdb">2002</text>
<text x="466.0" y="473.30" text-anchor="middle" class="td">3.41</text>
<text x="503.1" y="473.30" text-anchor="middle" class="td">2.79</text>
<text x="540.2" y="473.30" text-anchor="middle" class="td">0.62</text>
<text x="428.9" y="479.70" text-anchor="middle" class="tdb">2003</text>
<text x="466.0" y="479.70" text-anchor="middle" class="td">3.37</text>
<text x="503.1" y="479.70" text-anchor="middle" class="td">2.52</text>
<text x="540.2" y="479.70" text-anchor="middle" class="td">0.85</text>
<text x="428.9" y="486.10" text-anchor="middle" class="tdb">2004</text>
<text x="466.0" y="486.10" text-anchor="middle" class="td">3.34</text>
<text x="503.1" y="486.10" text-anchor="middle" class="td">5.37</text>
<text x="540.2" y="486.10" text-anchor="middle" class="td">-2.03</text>
<text x="428.9" y="492.50" text-anchor="middle" class="tdb">2005</text>
<text x="466.0" y="492.50" text-anchor="middle" class="td">3.44</text>
<text x="503.1" y="492.50" text-anchor="middle" class="td">4.26</text>
<text x="540.2" y="492.50" text-anchor="middle" class="td">-0.82</text>
<text x="428.9" y="498.90" text-anchor="middle" class="tdb">2006</text>
<text x="466.0" y="498.90" text-anchor="middle" class="td">4.39</text>
<text x="503.1" y="498.90" text-anchor="middle" class="td">4.88</text>
<text x="540.2" y="498.90" text-anchor="middle" class="td">-0.49</text>
<text x="428.9" y="505.30" text-anchor="middle" class="tdb">2007</text>
<text x="466.0" y="505.30" text-anchor="middle" class="td">4.37</text>
<text x="503.1" y="505.30" text-anchor="middle" class="td">4.90</text>
<text x="540.2" y="505.30" text-anchor="middle" class="td">-0.53</text>
<text x="428.9" y="511.70" text-anchor="middle" class="tdb">2008</text>
<text x="466.0" y="511.70" text-anchor="middle" class="td">5.38</text>
<text x="503.1" y="511.70" text-anchor="middle" class="td">5.47</text>
<text x="540.2" y="511.70" text-anchor="middle" class="td">-0.09</text>
<text x="428.9" y="518.10" text-anchor="middle" class="tdb">2009</text>
<text x="466.0" y="518.10" text-anchor="middle" class="td">3.65</text>
<text x="503.1" y="518.10" text-anchor="middle" class="td">-0.19</text>
<text x="540.2" y="518.10" text-anchor="middle" class="td">3.84</text>
<rect x="410.3" y="526.2" width="148.4" height="1" fill="#7e8489"/>
<rect x="410.3" y="538.4" width="148.4" height="1.2" fill="#2f2c2a"/>
<text x="428.9" y="531.25" text-anchor="middle" class="tdb">Promedio</text>
<text x="428.9" y="537.45" text-anchor="middle" class="tdb">década</text>
<text x="466.0" y="534.4" text-anchor="middle" class="tdb">4.41</text>
<text x="503.1" y="534.4" text-anchor="middle" class="tdb">3.57</text>
<text x="540.2" y="534.4" text-anchor="middle" class="tdb">0.42</text>
<text x="410.9" y="543.8" class="nt">Fuente: BCR</text>
<text x="410.9" y="550.0" class="nt"><tspan font-size="2.6" dy="-1.3">1/</tspan><tspan dy="1.3"> Punto a punto a diciembre de cada año</tspan></text>
<text x="410.9" y="556.1" class="nt">2/ Entra en vigencia la Ley de Integración Monetaria y las tasas de interés se</text>
<text x="410.9" y="561.5" class="nt">expresan en US$, antes en colones.</text><text x="654.6" y="409.4" text-anchor="middle" class="tt">Tasas de interés básica pasiva a 180 días</text>
<text x="654.6" y="415.7" text-anchor="middle" class="tt">Promedio ponderado</text>
<rect x="590.8" y="449.3" width="127.7" height="89.5" fill="#e6f3fd"/>
<rect x="590.8" y="423.2" width="127.7" height="26.3" fill="#04539a"/>
<rect x="590.8" y="423.0" width="127.7" height="1.1" fill="#2c2f3a"/>
<text x="606.8" y="438.30" text-anchor="middle" class="th">Año</text>
<text x="638.7" y="428.75" text-anchor="middle" class="th">Tasa de</text>
<text x="638.7" y="435.25" text-anchor="middle" class="th">interés</text>
<text x="638.7" y="441.75" text-anchor="middle" class="th">pasiva</text>
<text x="638.7" y="448.25" text-anchor="middle" class="th">nominal</text>
<text x="670.6" y="435.10" text-anchor="middle" class="th">Inflación</text>
<text x="670.6" y="441.50" text-anchor="middle" class="th">anual <tspan font-size="2.8" dy="-1.5" font-weight="normal">1/</tspan></text>
<text x="702.5" y="438.30" text-anchor="middle" class="th">Pasiva real</text>
<text x="606.8" y="460.50" text-anchor="middle" class="tdb">2010</text>
<text x="638.7" y="460.50" text-anchor="middle" class="td">1.80</text>
<text x="670.6" y="460.50" text-anchor="middle" class="td">2.13</text>
<text x="702.5" y="460.50" text-anchor="middle" class="td">-0.33</text>
<text x="606.8" y="466.90" text-anchor="middle" class="tdb">2011</text>
<text x="638.7" y="466.90" text-anchor="middle" class="td">1.91</text>
<text x="670.6" y="466.90" text-anchor="middle" class="td">5.05</text>
<text x="702.5" y="466.90" text-anchor="middle" class="td">-3.14</text>
<text x="606.8" y="473.30" text-anchor="middle" class="tdb">2012</text>
<text x="638.7" y="473.30" text-anchor="middle" class="td">3.32</text>
<text x="670.6" y="473.30" text-anchor="middle" class="td">0.78</text>
<text x="702.5" y="473.30" text-anchor="middle" class="td">2.54</text>
<text x="606.8" y="479.70" text-anchor="middle" class="tdb">2013</text>
<text x="638.7" y="479.70" text-anchor="middle" class="td">3.64</text>
<text x="670.6" y="479.70" text-anchor="middle" class="td">0.79</text>
<text x="702.5" y="479.70" text-anchor="middle" class="td">2.85</text>
<text x="606.8" y="486.10" text-anchor="middle" class="tdb">2014</text>
<text x="638.7" y="486.10" text-anchor="middle" class="td">4.09</text>
<text x="670.6" y="486.10" text-anchor="middle" class="td">0.48</text>
<text x="702.5" y="486.10" text-anchor="middle" class="td">3.61</text>
<rect x="590.8" y="526.2" width="127.7" height="1" fill="#7e8489"/>
<rect x="590.8" y="538.4" width="127.7" height="1.2" fill="#2f2c2a"/>
<text x="606.8" y="534.35" text-anchor="middle" class="tdb">Promedio</text>
<text x="638.7" y="534.4" text-anchor="middle" class="tdb">2.95</text>
<text x="670.6" y="534.4" text-anchor="middle" class="tdb">1.85</text>
<text x="702.5" y="534.4" text-anchor="middle" class="tdb">1.11</text>
<text x="591.4" y="543.8" class="nt">Fuente: BCR</text>
<text x="591.4" y="550.0" class="nt"><tspan font-size="2.6" dy="-1.3">1/</tspan><tspan dy="1.3"> Punto a punto a diciembre de cada año</tspan></text>
</g>
</svg>
</body></html>
